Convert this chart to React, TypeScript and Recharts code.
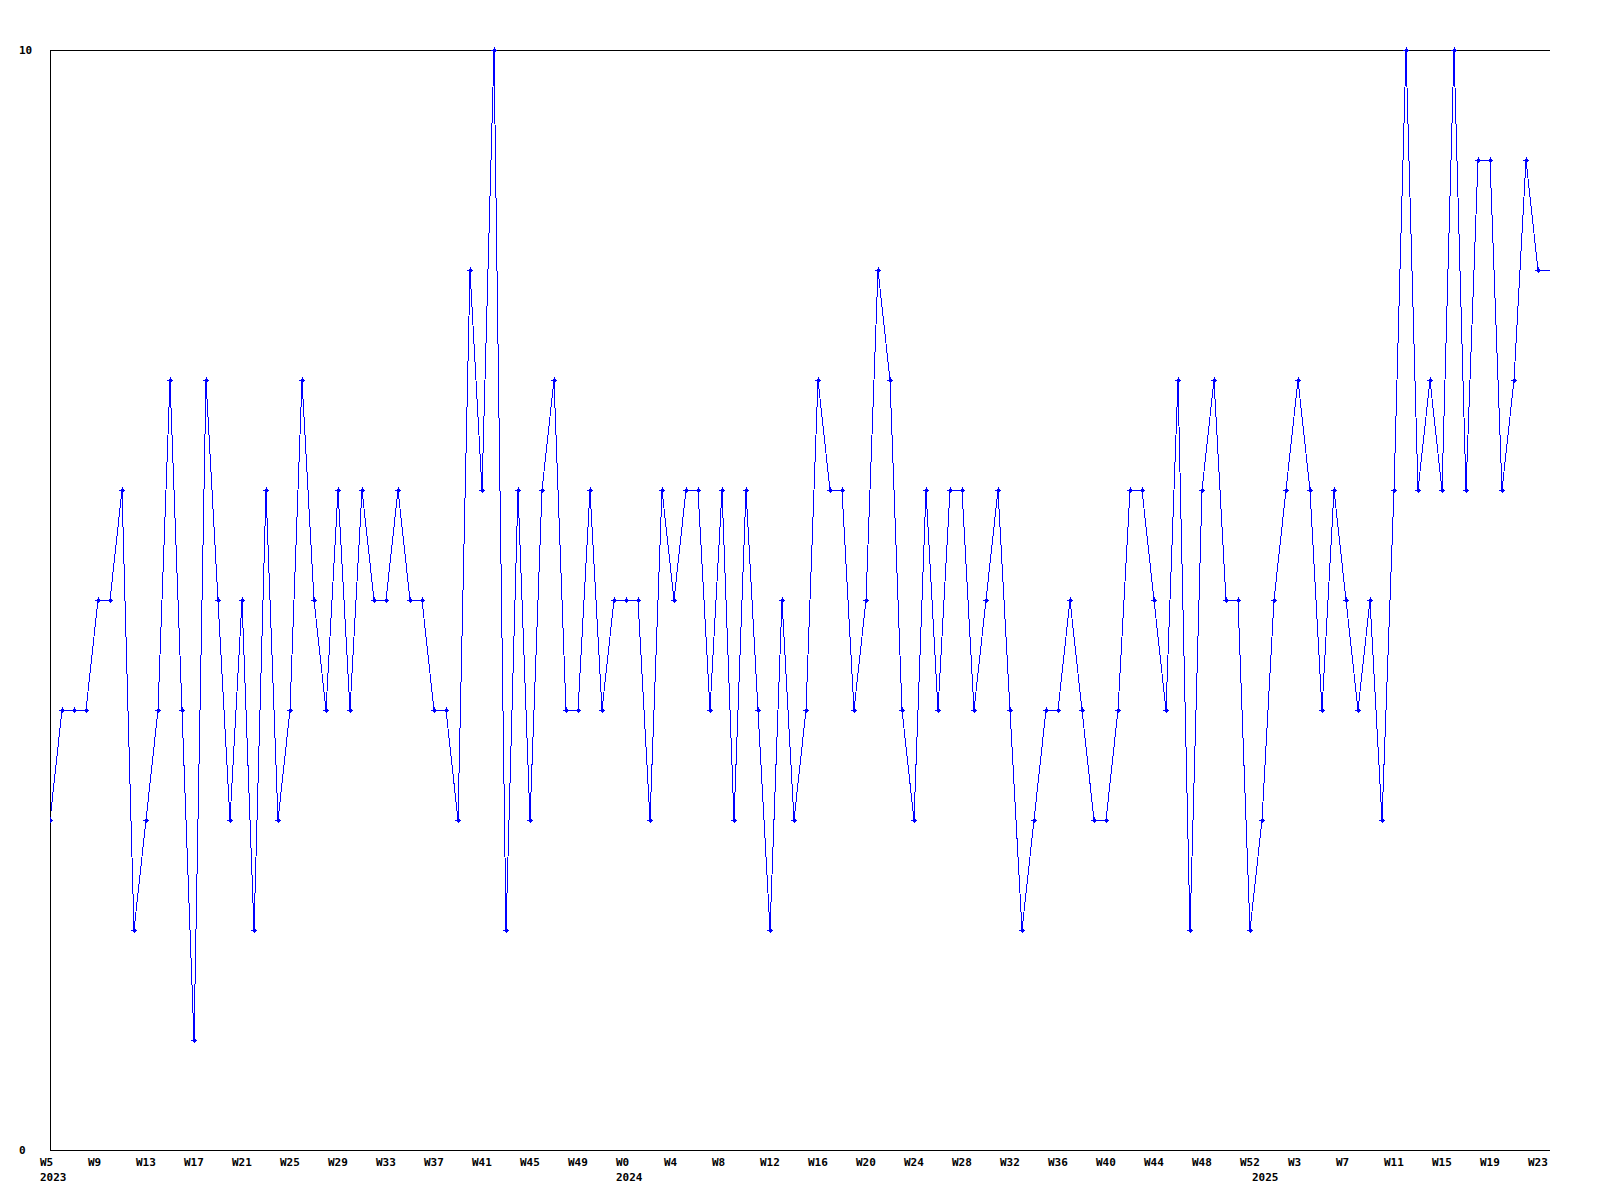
import React from 'react';
import { LineChart, Line, XAxis, YAxis, ReferenceLine } from 'recharts';

// Weekly values, 2023 W5 .. 2025 W24 (last point continues to the plot edge)
const weeklyValues = [
  3, 4, 4, 4, 5, 5, 6, 2, 3, 4, 7, 4, 1, 7, 5, 3, 5, 2, 6, 3,
  4, 7, 5, 4, 6, 4, 6, 5, 5, 6, 5, 5, 4, 4, 3, 8, 6, 10, 2, 6,
  3, 6, 7, 4, 4, 6, 4, 5, 5, 5, 3, 6, 5, 6, 6, 4, 6, 3, 6, 4,
  2, 5, 3, 4, 7, 6, 6, 4, 5, 8, 7, 4, 3, 6, 4, 6, 6, 4, 5, 6,
  4, 2, 3, 4, 4, 5, 4, 3, 3, 4, 6, 6, 5, 4, 7, 2, 6, 7, 5, 5,
  2, 3, 5, 6, 7, 6, 4, 6, 5, 4, 5, 3, 6, 10, 6, 7, 6, 10, 6, 9,
  9, 6, 7, 9, 8, 8,
];
const markedCount = 125;

const weekTickLabels = [
  'W5', 'W9', 'W13', 'W17', 'W21', 'W25', 'W29', 'W33', 'W37', 'W41', 'W45', 'W49',
  'W0', 'W4', 'W8', 'W12', 'W16', 'W20', 'W24', 'W28', 'W32', 'W36', 'W40', 'W44', 'W48', 'W52',
  'W3', 'W7', 'W11', 'W15', 'W19', 'W23',
];
const tickStep = 4;

const yearLabels = ['2023', '2024', '2025'];
const yearStartIndex = [0, 48, 101];

const yTicks = [0, 10];

const data = weeklyValues.map((v, i) => ({ idx: i, value: v }));
const weekTicks = weekTickLabels.map((_, i) => i * tickStep);
const allTicks = Array.from(new Set([...weekTicks, ...yearStartIndex])).sort((a, b) => a - b);

const FONT = '"DejaVu Sans Mono", "Liberation Mono", monospace';

const XTick = (props: any) => {
  const { x, y, payload } = props;
  const v = payload.value;
  const week = v % tickStep === 0 ? weekTickLabels[v / tickStep] : null;
  const k = yearStartIndex.indexOf(v);
  return (
    <g>
      {week && (
        <text x={x - 10} y={y + 12} textAnchor="start" dominantBaseline="central"
          fontFamily={FONT} fontWeight="bold" fontSize={11} fill="#000">
          {week}
        </text>
      )}
      {k >= 0 && (
        <text x={x - 10} y={y + 27} textAnchor="start" dominantBaseline="central"
          fontFamily={FONT} fontWeight="bold" fontSize={11} fill="#000">
          {yearLabels[k]}
        </text>
      )}
    </g>
  );
};

const YTick = (props: any) => {
  const { y, payload } = props;
  return (
    <text x={19} y={y} textAnchor="start" dominantBaseline="central"
      fontFamily={FONT} fontWeight="bold" fontSize={11} fill="#000">
      {payload.value}
    </text>
  );
};

const Marker = (props: any) => {
  const { cx, cy, index } = props;
  if (index >= markedCount || cx == null || cy == null) return <g key={`d${index}`} />;
  return (
    <g key={`d${index}`}>
      <path d={`M${cx - 3},${cy} L${cx + 3},${cy} M${cx},${cy - 3} L${cx},${cy + 3}`}
        stroke="#0000ff" strokeWidth={1} shapeRendering="crispEdges" />
      <rect x={cx - 1.5} y={cy - 1.5} width={3} height={3} fill="#0000ff" shapeRendering="crispEdges" />
    </g>
  );
};

export default function App() {
  return (
    <div style={{ position: 'absolute', left: 0, top: 0, background: '#fff' }}>
      <LineChart width={1600} height={1200} data={data}
        margin={{ top: 50, right: 50, bottom: 0, left: 0 }}>
        <XAxis dataKey="idx" type="number" domain={[0, 125]} ticks={allTicks}
          allowDataOverflow interval={0} height={50} tickSize={0} tickMargin={0}
          tickLine={false} axisLine={{ stroke: '#000', strokeWidth: 1, shapeRendering: 'crispEdges' }}
          tick={<XTick />} />
        <YAxis type="number" domain={[0, 10]} ticks={yTicks} width={50} tickSize={0}
          tickLine={false} interval={0}
          axisLine={{ stroke: '#000', strokeWidth: 1, shapeRendering: 'crispEdges' }}
          tick={<YTick />} />
        <ReferenceLine y={10} stroke="#000" strokeWidth={1} shapeRendering="crispEdges" />
        <Line type="linear" dataKey="value" stroke="#0000ff" strokeWidth={1}
          shapeRendering="crispEdges" dot={Marker} activeDot={false}
          isAnimationActive={false} />
      </LineChart>
    </div>
  );
}
